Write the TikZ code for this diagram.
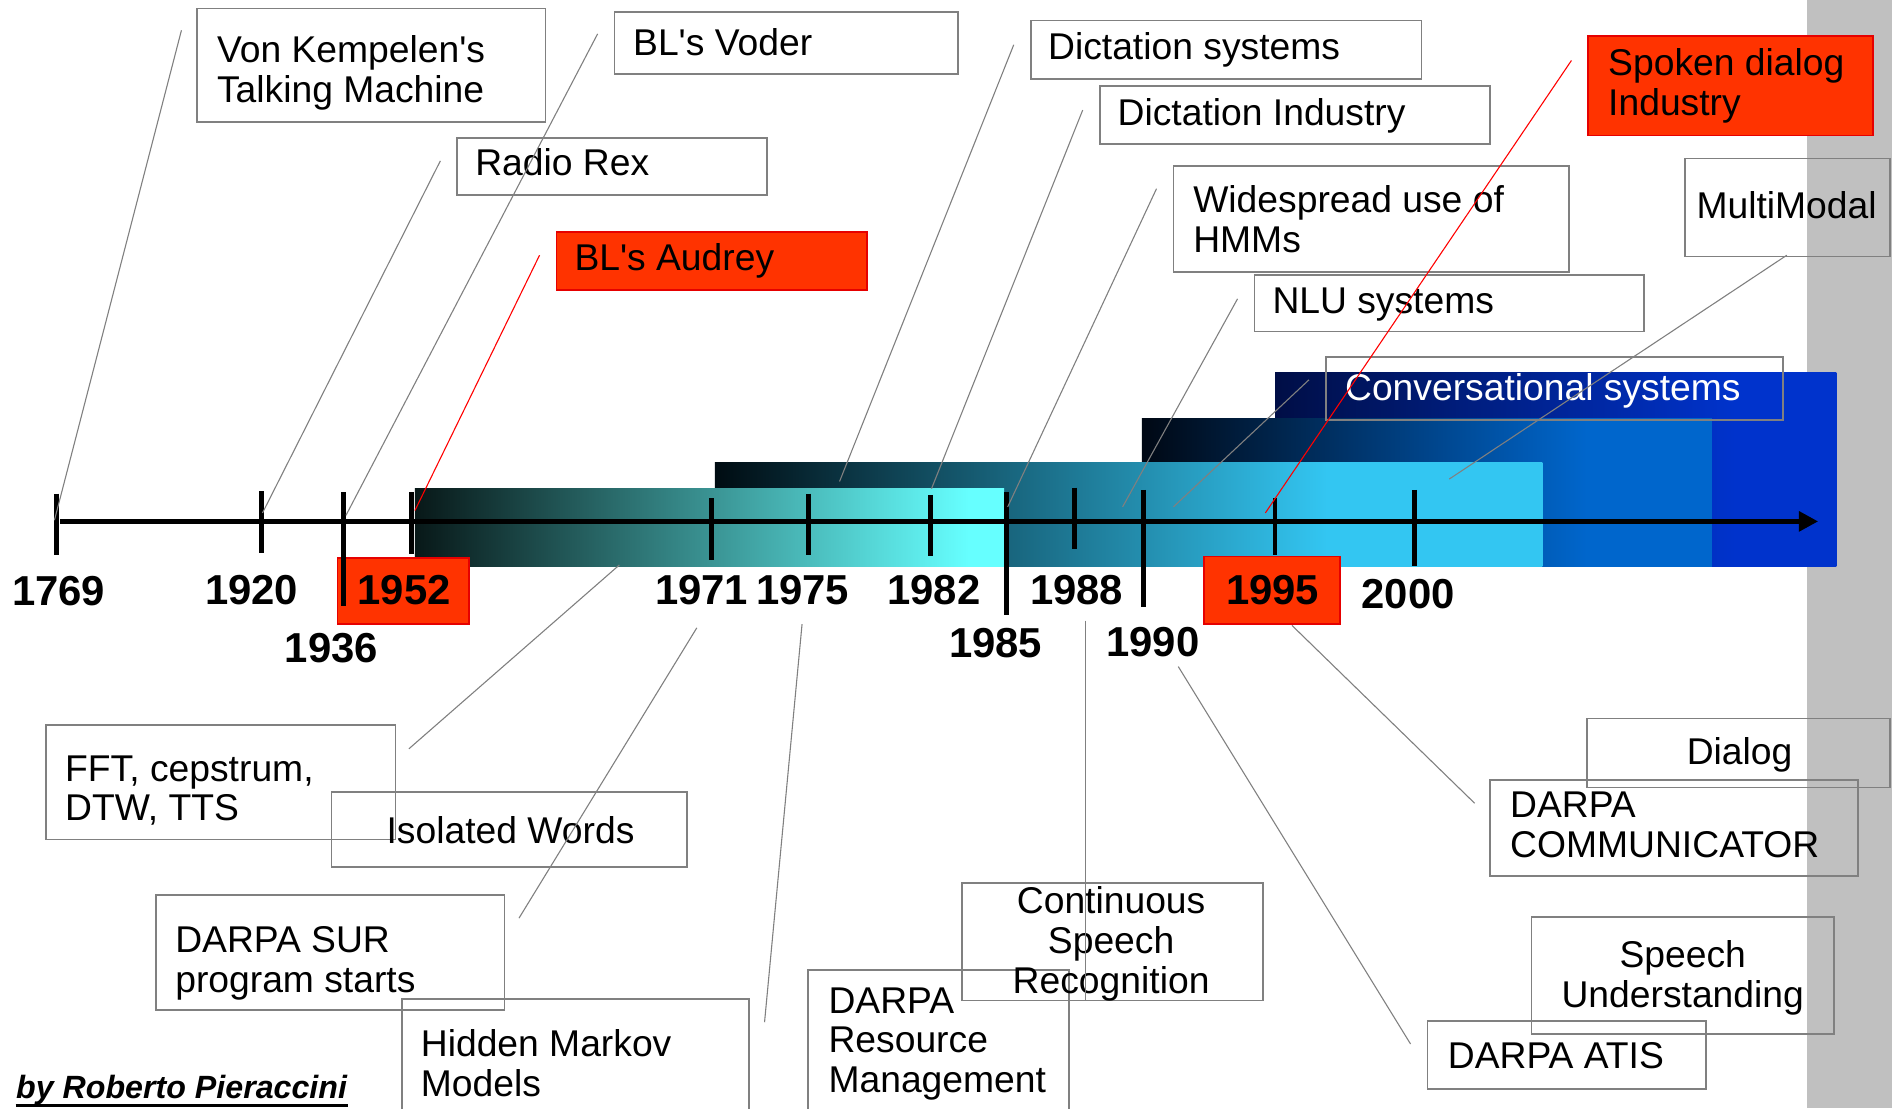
\documentclass[tikz,border=0pt]{standalone}
\usepackage{fontspec}
\setmainfont{Liberation Sans}[Ligatures=TeXOff]
\usetikzlibrary{arrows.meta,fit}
\definecolor{bxg}{RGB}{128,128,128}
\definecolor{rbox}{RGB}{255,51,0}
\definecolor{rline}{RGB}{230,0,0}
\definecolor{sidegray}{RGB}{192,192,192}
\definecolor{aL}{RGB}{8,24,24}\definecolor{aR}{RGB}{102,255,255}
\definecolor{bL}{RGB}{0,12,18}\definecolor{bR}{RGB}{51,198,242}
\definecolor{cL}{RGB}{0,8,20}\definecolor{cR}{RGB}{0,102,204}
\definecolor{dL}{RGB}{0,14,70}\definecolor{dR}{RGB}{0,51,204}
\pgfdeclarehorizontalshading{shA}{100bp}{color(0bp)=(aL); color(25bp)=(aL); color(72bp)=(aR); color(100bp)=(aR)}
\pgfdeclarehorizontalshading{shB}{100bp}{color(0bp)=(bL); color(25bp)=(bL); color(62bp)=(bR); color(100bp)=(bR)}
\pgfdeclarehorizontalshading{shC}{100bp}{color(0bp)=(cL); color(25bp)=(cL); color(64bp)=(cR); color(100bp)=(cR)}
\pgfdeclarehorizontalshading{shD}{100bp}{color(0bp)=(dL); color(25bp)=(dL); color(66bp)=(dR); color(100bp)=(dR)}
\newcommand\bxfont{\fontsize{15.4}{16.5}\selectfont}
\newcommand\yrfont{\fontsize{17.3}{20}\selectfont\bfseries}
\newcommand\aufont{\fontsize{13.3}{16}\selectfont\bfseries\itshape}
\begin{document}
\begin{tikzpicture}[x=0.5pt,y=-0.5pt,
  bx/.style={draw=bxg, line width=0.75pt, inner sep=0pt},
  rbx/.style={draw=rline, line width=0.75pt, fill=rbox, inner sep=0pt},
  tx/.style={font=\bxfont, align=left, inner sep=0pt, anchor=west},
  txc/.style={font=\bxfont, align=center, inner sep=0pt},
  yr/.style={font=\yrfont, inner sep=0pt},
  tk/.style={line width=2pt},
  cn/.style={draw=bxg, line width=0.45pt},
  cnr/.style={draw=red, line width=0.45pt}]
\useasboundingbox (0,0) rectangle (1564,916);
\clip (0,0) rectangle (1564,916);
\fill[white] (0,0) rectangle (1564,916);
\fill[sidegray] (1494,0) rectangle (1564,916);
% era bars
\shade[shading=shD] (1054,308) rectangle (1518,468);
\shade[shading=shC] (944,346) rectangle (1415,468);
\shade[shading=shB] (591,382) rectangle (1275,468);
\shade[shading=shA] (343,404) rectangle (830,468);
% red year boxes
\node[rbx, fit={(279,461) (388,516)}] (r52) {};
\node[rbx, fit={(995,460) (1108,516)}] (r95) {};
% axis
\coordinate (ax0) at (50,431);
\coordinate (ax1) at (1503,431);
\draw[line width=2.2pt, -{Triangle[length=8pt,width=8pt]}] (ax0) -- (ax1);
% ticks
\foreach \x/\a/\b in {46.5/408/459, 216.5/406/457, 284/407/501, 340/407/458,
  588/412/463, 668/408/459, 769/409/460, 832/407/508, 888/403/454,
  945/405/502, 1054/412/459, 1169/405/468}
  \draw[tk] (\x,\a) -- (\x,\b);
% years
\node[yr] (y1769) at (48.5,489) {1769};
\node[yr] (y1920) at (208,488) {1920};
\node[yr] (y1936) at (274,536) {1936};
\node[yr] (y1952) at (334,488) {1952};
\node[yr] (y1971) at (580,488) {1971};
\node[yr] (y1975) at (663.5,488) {1975};
\node[yr] (y1982) at (772,488) {1982};
\node[yr] (y1985) at (823,532) {1985};
\node[yr] (y1988) at (890,488) {1988};
\node[yr] (y1990) at (953,531) {1990};
\node[yr] (y1995) at (1052,488) {1995};
\node[yr] (y2000) at (1164,491) {2000};
% top boxes
\node[bx, fit={(163,7) (451,101)}] (vk) {};
\node[tx] (vkt) at (179,60.5) {Von Kempelen's\\Talking Machine};
\node[bx, fit={(508,10) (792,61)}] (vod) {};
\node[tx] (vodt) at (523,34.5) {BL's Voder};
\node[bx, fit={(378,114) (634,161)}] (rex) {};
\node[tx] (rext) at (392.5,134) {Radio Rex};
\node[rbx, fit={(460,192) (717,240)}] (aud) {};
\node[tx] (audt) at (474.5,216) {BL's Audrey};
\node[bx, fit={(852,17) (1175,65)}] (dsy) {};
\node[tx] (dsyt) at (866,41) {Dictation systems};
\node[bx, fit={(909,71) (1232,119)}] (din) {};
\node[tx] (dint) at (923.5,95.5) {Dictation Industry};
\node[bx, fit={(970,137) (1297,225)}] (hmu) {};
\node[tx] (hmut) at (986,181) {Widespread use of\\HMMs};
\node[bx, fit={(1037,227) (1359,274)}] (nlu) {};
\node[tx] (nlut) at (1051.5,251.5) {NLU systems};
\node[rbx, fit={(1313,30) (1548,112)}] (sdi) {};
\node[tx] (sdit) at (1329,71) {Spoken dialog\\Industry};
\node[bx, fit={(1393,131) (1562,212)}] (mm) {};
\node[tx] (mmt) at (1402,170) {MultiModal};
\node[bx, fit={(1096,295) (1474,347)}] (cnv) {};
\node[tx, text=white] (cnvt) at (1111.5,323) {Conversational systems};
% bottom boxes
\node[bx, fit={(38,599) (327,694)}] (fft) {};
\node[tx] (fftt) at (53.5,653.5) {FFT, cepstrum,\\DTW, TTS};
\node[bx, fit={(274,655) (568,717)}] (iso) {};
\node[txc] (isot) at (422,686) {Isolated Words};
\node[bx, fit={(129,740) (417,835)}] (sur) {};
\node[tx] (surt) at (144.5,796) {DARPA SUR\\program starts};
\node[bx, fit={(332,826) (619,940)}] (hmo) {};
\node[tx] (hmot) at (347.5,878.5) {Hidden Markov\\Models};
\node[bx, fit={(668,802) (884,940)}] (rm) {};
\node[tx] (rmt) at (684.5,863) {DARPA\\Resource\\Management};
\node[bx, fit={(795,730) (1044,827)}] (csr) {};
\node[txc] (csrt) at (918.5,780) {Continuous\\Speech\\Recognition};
\node[bx, fit={(1312,594) (1562,651)}] (dia) {};
\node[txc] (diat) at (1438,624) {Dialog};
\node[bx, fit={(1232,645) (1536,724)}] (com) {};
\node[tx] (comt) at (1248,681.5) {DARPA\\COMMUNICATOR};
\node[bx, fit={(1266,758) (1516,855)}] (su) {};
\node[txc] (sut) at (1391,808.5) {Speech\\Understanding};
\node[bx, fit={(1180,844) (1410,900)}] (ati) {};
\node[tx] (atit) at (1196.5,873) {DARPA ATIS};
% connectors (top)
\coordinate (c1a) at (150,25);   \coordinate (c1b) at (45,430);
\coordinate (c2a) at (364,133);  \coordinate (c2b) at (217,424);
\coordinate (c3a) at (494,28);   \coordinate (c3b) at (286,426);
\coordinate (c4a) at (446,211);  \coordinate (c4b) at (343,422);
\coordinate (c5a) at (838,37);   \coordinate (c5b) at (694,398);
\coordinate (c6a) at (895,91);   \coordinate (c6b) at (770,404);
\coordinate (c7a) at (956,156);  \coordinate (c7b) at (833,419);
\coordinate (c8a) at (1023,247); \coordinate (c8b) at (928,419);
\coordinate (c9a) at (1299,50);  \coordinate (c9b) at (1046,424);
\coordinate (c10a) at (1477,211); \coordinate (c10b) at (1198,396);
\coordinate (c11a) at (1082,314); \coordinate (c11b) at (970,419);
\draw[cn] (c1a) -- (c1b);
\draw[cn] (c2a) -- (c2b);
\draw[cn] (c3a) -- (c3b);
\draw[cnr] (c4a) -- (c4b);
\draw[cn] (c5a) -- (c5b);
\draw[cn] (c6a) -- (c6b);
\draw[cn] (c7a) -- (c7b);
\draw[cn] (c8a) -- (c8b);
\draw[cnr] (c9a) -- (c9b);
\draw[cn] (c10a) -- (c10b);
\draw[cn] (c11a) -- (c11b);
% connectors (bottom)
\coordinate (c12a) at (512,467); \coordinate (c12b) at (338,619);
\coordinate (c13a) at (576,519); \coordinate (c13b) at (429,759);
\coordinate (c14a) at (663,516); \coordinate (c14b) at (632,845);
\coordinate (c15a) at (897,513); \coordinate (c15b) at (897,827);
\coordinate (c16a) at (974,551); \coordinate (c16b) at (1166,863);
\coordinate (c17a) at (1068,517); \coordinate (c17b) at (1219,664);
\draw[cn] (c12a) -- (c12b);
\draw[cn] (c13a) -- (c13b);
\draw[cn] (c14a) -- (c14b);
\draw[cn] (c15a) -- (c15b);
\draw[cn] (c16a) -- (c16b);
\draw[cn] (c17a) -- (c17b);
% author
\node[font=\aufont, anchor=base west, inner sep=0pt] (auth) at (13,908) {by Roberto Pieraccini};
\draw[line width=1.3pt] ([yshift=-3pt]auth.base west) -- ([yshift=-3pt]auth.base east);
\end{tikzpicture}
\end{document}
